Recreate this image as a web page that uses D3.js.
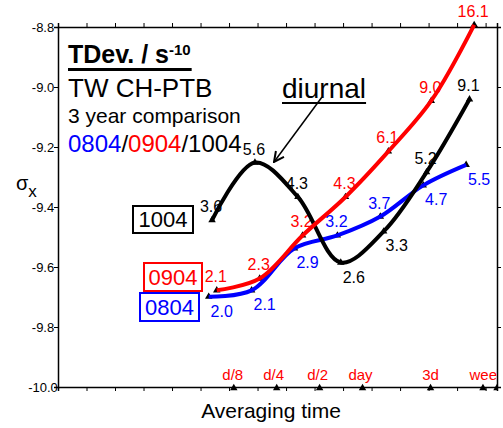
<!DOCTYPE html>
<html>
<head>
<meta charset="utf-8">
<script src="https://cdn.jsdelivr.net/npm/d3@7"></script>
<style>
  body { margin: 0; background: #fff; }
  svg { font-family: Arial, "Liberation Sans", sans-serif; }
</style>
</head>
<body>
<svg width="503" height="428"></svg>
<script>
// averaging times in seconds, TDEV values in units of 1e-10 s
var tau0804 = [7200, 14400, 28800, 57600, 115200, 230400, 460800];
var tdev0804 = [2.0, 2.1, 2.9, 3.2, 3.7, 4.7, 5.5];
var tau0904 = [8200, 16400, 32800, 65600, 131200, 262400, 524800];
var tdev0904 = [2.1, 2.3, 3.2, 4.3, 6.1, 9.0, 16.1];
var tau1004 = [7600, 15200, 30400, 60800, 121600, 243200, 486400];
var tdev1004 = [3.6, 5.6, 4.3, 2.6, 3.3, 5.2, 9.1];
// where each value label sits: a = above, b = below right
var place0804 = ["b", "b", "b", "a", "a", "b", "b"];
var place0904 = ["a", "a", "a", "a", "a", "a", "a"];
var place1004 = ["a", "a", "a", "b", "b", "a", "a"];

var markNames = ["d/8", "d/4", "d/2", "day", "3d", "week", ""];
var markTaus = [10800, 21600, 43200, 86400, 259200, 604800, 758578];
var markShift = [0, -2, -1, -1, 1, 5, 0];

var yTicks = [-10.0, -9.8, -9.6, -9.4, -9.2, -9.0, -8.8];

var width = 503,
    height = 428,
    plotLeft = 58, plotRight = 497, plotTop = 27, plotBottom = 387;

var svg = d3.select("svg");

var x = d3.scaleLog()
  .domain([Math.pow(10, 2.8), Math.pow(10, 5.88)])
  .range([plotLeft, plotRight]);

var y = d3.scaleLinear()
  .domain([-10, -8.8])
  .range([plotBottom, plotTop]);

var xTickValues = d3.range(0, 16).map(function(k) { return Math.pow(10, 2.8 + 0.2 * k); });

function logY(v) { return Math.log10(v) - 10; }

// axes, ticks outward on all sides
svg.append("g")
  .attr("transform", "translate(0," + plotBottom + ")")
  .call(d3.axisBottom(x).tickValues(xTickValues).tickSize(4).tickFormat(""));
svg.append("g")
  .attr("transform", "translate(0," + plotTop + ")")
  .call(d3.axisTop(x).tickValues(xTickValues).tickSize(4).tickFormat(""));
svg.append("g")
  .attr("transform", "translate(" + plotRight + ",0)")
  .call(d3.axisRight(y).tickValues(yTicks).tickSize(4).tickFormat(""));
var yAxis = svg.append("g")
  .attr("transform", "translate(" + plotLeft + ",0)")
  .call(d3.axisLeft(y).tickValues(yTicks).tickSize(4).tickFormat(function(d) { return d.toFixed(1); }));
yAxis.selectAll("text")
  .attr("x", -15)
  .attr("text-anchor", "middle")
  .attr("font-size", 13)
  .attr("font-family", "Arial, 'Liberation Sans', sans-serif")
  .attr("fill", "#000");
svg.selectAll(".domain").attr("stroke", "#000").attr("stroke-width", 1.5);
svg.selectAll(".tick line").attr("stroke", "#000").attr("stroke-width", 1);

svg.append("defs").append("clipPath").attr("id", "plotclip")
  .append("rect").attr("x", plotLeft).attr("y", 0).attr("width", plotRight - plotLeft).attr("height", height);

// day markers on the bottom axis
var markers = svg.append("g").attr("clip-path", "url(#plotclip)");
markers.selectAll("path")
  .data(markTaus)
  .enter().append("path")
    .attr("d", d3.symbol(d3.symbolTriangle).size(24))
    .attr("transform", function(d) { return "translate(" + x(d) + "," + (plotBottom + 1) + ")"; })
    .attr("fill", "#000");
markers.selectAll("text")
  .data(markTaus)
  .enter().append("text")
    .attr("x", function(d, i) { return x(d) - 1 + markShift[i]; })
    .attr("y", 380)
    .attr("text-anchor", "middle")
    .attr("font-size", 15)
    .attr("fill", "#ff0000")
    .text(function(d, i) { return markNames[i]; });

// axis titles
svg.append("text")
  .attr("x", 271).attr("y", 418)
  .attr("text-anchor", "middle")
  .attr("font-size", 21)
  .text("Averaging time");
var sig = svg.append("text").attr("x", 16).attr("y", 190).attr("font-size", 20);
sig.append("tspan").text("σ");
sig.append("tspan").attr("dy", 7).attr("font-size", 17).text("x");

// series
var series = [
  { tau: tau0804, tdev: tdev0804, place: place0804, color: "#0000ff" },
  { tau: tau1004, tdev: tdev1004, place: place1004, color: "#000000" },
  { tau: tau0904, tdev: tdev0904, place: place0904, color: "#ff0000" }
];

var line = d3.line()
  .x(function(d) { return x(d.tau); })
  .y(function(d) { return y(logY(d.v)); })
  .curve(d3.curveCatmullRom.alpha(0.5));

function points(s) {
  return s.tau.map(function(t, i) { return { tau: t, v: s.tdev[i], place: s.place[i] }; });
}

series.forEach(function(s) {
  svg.append("g").selectAll("text")
    .data(points(s))
    .enter().append("text")
      .attr("x", function(d) { return x(d.tau) + (d.place === "a" ? -1 : 13); })
      .attr("y", function(d) { return y(logY(d.v)) + (d.place === "a" ? -8 : 20); })
      .attr("text-anchor", "middle")
      .attr("font-size", 16)
      .attr("fill", s.color)
      .text(function(d) { return d.v.toFixed(1); });
});

series.forEach(function(s) {
  svg.append("g").selectAll("path")
    .data(points(s))
    .enter().append("path")
      .attr("d", d3.symbol(d3.symbolTriangle).size(24))
      .attr("transform", function(d) { return "translate(" + x(d.tau) + "," + y(logY(d.v)) + ")"; })
      .attr("fill", "#000");
});

series.forEach(function(s) {
  svg.append("path")
    .datum(points(s))
    .attr("d", line)
    .attr("fill", "none")
    .attr("stroke", s.color)
    .attr("stroke-width", 4);
});

// title block
var t1 = svg.append("text").attr("x", 68).attr("y", 63).attr("font-size", 25).attr("font-weight", "bold");
t1.append("tspan").text("TDev. / s");
t1.append("tspan").attr("dy", -8).attr("font-size", 15).text("-10");
var bb = t1.node().getBBox();
svg.append("line")
  .attr("x1", 68).attr("x2", bb.x + bb.width + 1)
  .attr("y1", 69.5).attr("y2", 69.5)
  .attr("stroke", "#000").attr("stroke-width", 3);

svg.append("text").attr("x", 68).attr("y", 97).attr("font-size", 26).text("TW CH-PTB");
svg.append("text").attr("x", 68).attr("y", 123).attr("font-size", 21).text("3 year comparison");
var t4 = svg.append("text").attr("x", 68).attr("y", 152).attr("font-size", 24);
t4.append("tspan").attr("fill", "#0000ff").text("0804");
t4.append("tspan").text("/");
t4.append("tspan").attr("fill", "#ff0000").text("0904");
t4.append("tspan").text("/1004");

// diurnal note with arrow
var di = svg.append("text").attr("x", 282).attr("y", 98).attr("font-size", 28).text("diurnal");
var db = di.node().getBBox();
svg.append("line")
  .attr("x1", 282).attr("x2", db.x + db.width)
  .attr("y1", 103).attr("y2", 103)
  .attr("stroke", "#000").attr("stroke-width", 2);
svg.select("defs").append("marker")
  .attr("id", "arrow")
  .attr("viewBox", "0 0 12 12")
  .attr("refX", 11).attr("refY", 6)
  .attr("markerWidth", 12).attr("markerHeight", 12)
  .attr("markerUnits", "userSpaceOnUse")
  .attr("orient", "auto")
  .append("path")
    .attr("d", "M1,1 L11,6 L1,11")
    .attr("fill", "none")
    .attr("stroke", "#000")
    .attr("stroke-width", 2);
svg.append("line")
  .attr("x1", 322).attr("y1", 97)
  .attr("x2", 274).attr("y2", 162)
  .attr("stroke", "#000").attr("stroke-width", 1.5)
  .attr("marker-end", "url(#arrow)");

// series boxes
var boxes = [
  { name: "1004", color: "#000000", x: 133, y: 206, w: 60, h: 27 },
  { name: "0904", color: "#ff0000", x: 144, y: 263, w: 58, h: 28 },
  { name: "0804", color: "#0000ff", x: 140, y: 293, w: 59, h: 28 }
];
boxes.forEach(function(b) {
  svg.append("rect")
    .attr("x", b.x).attr("y", b.y).attr("width", b.w).attr("height", b.h)
    .attr("fill", "#fff").attr("stroke", b.color).attr("stroke-width", 2);
  svg.append("text")
    .attr("x", b.x + b.w / 2).attr("y", b.y + b.h - 6)
    .attr("text-anchor", "middle")
    .attr("font-size", 22)
    .attr("fill", b.color)
    .text(b.name);
});
</script>
</body>
</html>
